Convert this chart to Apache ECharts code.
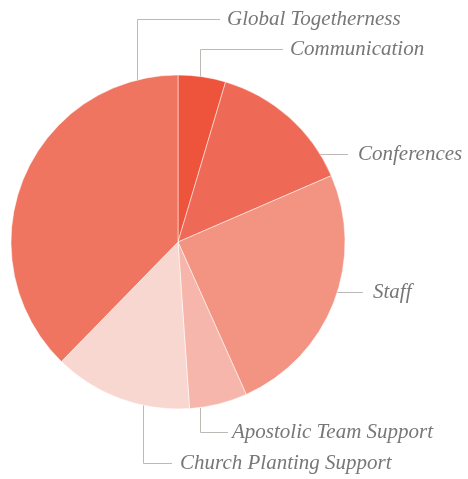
<!DOCTYPE html>
<html>
<head>
<meta charset="utf-8">
<style>html,body{margin:0;padding:0;background:#fff;}#c{width:468px;height:479px;}</style>
<script src="https://cdn.jsdelivr.net/npm/echarts@6/dist/echarts.min.js"></script>
</head>
<body>
<div id="c"></div>
<script>
// Data
var categories = ['Communication', 'Conferences', 'Staff', 'Apostolic Team Support', 'Church Planting Support', 'Global Togetherness'];
var values = [4.6, 13.9, 24.8, 5.6, 13.4, 37.7];
var colors = ['#EE533B', '#EF6A56', '#F39382', '#F6B6AB', '#F9D7D1', '#F07561'];

// Label guide layout (pixel anchors for the callout lines & text)
var guides = [
  { pts: [[200.5, 77], [200.5, 49.5], [283, 49.5]], tx: 290, ty: 49.5 },
  { pts: [[319, 154.5], [348, 154.5]], tx: 358, ty: 154.5 },
  { pts: [[324, 292.5], [363, 292.5]], tx: 373, ty: 292.5 },
  { pts: [[200.5, 408], [200.5, 432.5], [228, 432.5]], tx: 232, ty: 432.5 },
  { pts: [[143.5, 405], [143.5, 463.5], [172, 463.5]], tx: 180, ty: 463.5 },
  { pts: [[137.5, 80], [137.5, 19.5], [220, 19.5]], tx: 227, ty: 19.5 }
];

var FONT = 'Liberation Serif';
var chart = echarts.init(document.getElementById('c'), null, { renderer: 'canvas' });
chart.setOption({
  animation: false,
  textStyle: { fontFamily: FONT },
  series: [{
    type: 'pie',
    center: [178, 242],
    radius: [0, 167],
    startAngle: 90,
    clockwise: true,
    avoidLabelOverlap: false,
    data: categories.map(function (c, i) {
      return { name: c, value: values[i], itemStyle: { color: colors[i] } };
    }),
    itemStyle: { borderColor: '#fff', borderWidth: 0.5 },
    label: {
      show: true,
      position: 'outside',
      alignTo: 'none',
      overflow: 'none',
      formatter: '{b}',
      fontFamily: FONT,
      fontStyle: 'italic',
      fontSize: 21,
      color: '#777777'
    },
    labelLine: {
      show: true,
      lineStyle: { color: '#BDBAB5', width: 1 }
    },
    labelLayout: function (p) {
      var g = guides[p.dataIndex];
      return {
        x: g.tx, y: g.ty, align: 'left', verticalAlign: 'middle',
        hideOverlap: false, moveOverlap: null,
        labelLinePoints: g.pts
      };
    },
    emphasis: { disabled: true }
  }]
});
</script>
</body>
</html>
